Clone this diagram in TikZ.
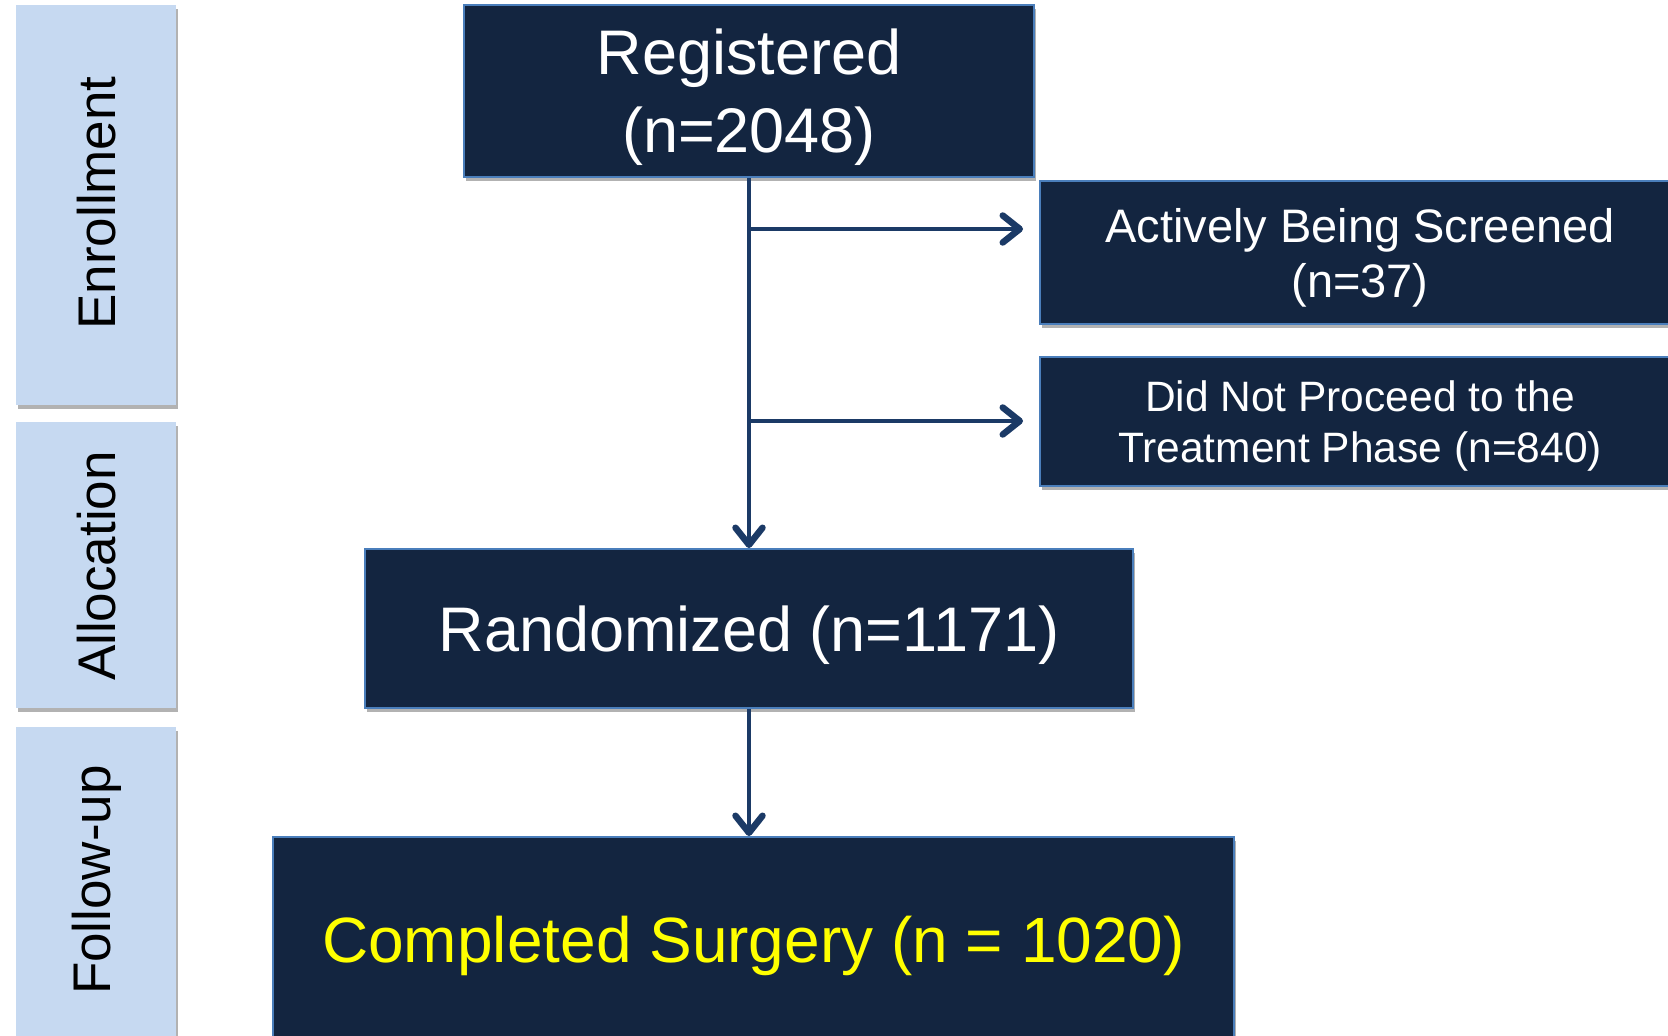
\documentclass[tikz,border=0pt]{standalone}
\usepackage{fontspec}
\setmainfont{Liberation Sans}
\usetikzlibrary{arrows.meta,shadows}
\definecolor{navy}{RGB}{19,37,64}
\definecolor{bord}{RGB}{74,126,187}
\definecolor{sidefill}{RGB}{198,217,241}
\definecolor{arr}{RGB}{27,58,102}
\definecolor{yel}{RGB}{255,255,0}
\begin{document}
\begin{tikzpicture}[x=1pt,y=-1pt,
  box/.style={rectangle, draw=bord, line width=2pt, fill=navy, inner sep=0pt,
    drop shadow={shadow xshift=2pt, shadow yshift=-4pt, opacity=0.3, fill=black}},
  boxtext/.style={text=white, align=center, inner sep=0pt},
  sidebox/.style={rectangle, fill=sidefill, inner sep=0pt,
    drop shadow={shadow xshift=2pt, shadow yshift=-4pt, opacity=0.3, fill=black}},
  sidelabel/.style={rotate=90, text=black, font=\fontsize{53}{60}\selectfont, inner sep=0pt},
  conn/.style={draw=arr, line width=4.5pt, -{Straight Barb[length=17pt,width=27pt,line width=6.5pt,round]}}]
\clip (0,0) rectangle (1668,1036);
\fill[white] (0,0) rectangle (1668,1036);

% side boxes
\node[sidebox, minimum width=160pt, minimum height=400pt] (enr) at (96,205) {};
\node[sidelabel] (enrl) at (97,203) {Enrollment};
\node[sidebox, minimum width=160pt, minimum height=286pt] (alloc) at (96,565) {};
\node[sidelabel] (allocl) at (97,566) {Allocation};
\node[sidebox, minimum width=160pt, minimum height=320pt] (fol) at (96,887) {};
\node[sidelabel] (foll) at (97,880) {Follow-up};

% main boxes
\node[box, minimum width=570pt, minimum height=172pt] (reg) at (749,91) {};
\node[boxtext, font=\fontsize{63}{78}\selectfont] (regt) at (749,97) {Registered\\(n=2048)};
\node[box, minimum width=640pt, minimum height=143pt] (act) at (1360,252.5) {};
\node[boxtext, font=\fontsize{47}{55}\selectfont] (actt) at (1360,258) {Actively Being Screened\\(n=37)};
\node[box, minimum width=640pt, minimum height=129pt] (dnp) at (1360,421.5) {};
\node[boxtext, font=\fontsize{42.5}{51}\selectfont] (dnpt) at (1360,426) {Did Not Proceed to the\\Treatment Phase (n=840)};
\node[box, minimum width=768pt, minimum height=159pt] (rand) at (749,628.5) {};
\node[boxtext, font=\fontsize{63}{78}\selectfont] (randt) at (749,635) {Randomized (n=1171)};
\node[box, minimum width=961pt, minimum height=206pt] (comp) at (753.5,940) {};
\node[boxtext, font=\fontsize{64}{78}\selectfont, text=yel] (compt) at (753.5,946) {Completed Surgery (n = 1020)};

% connectors
\coordinate (e1) at (1023,229);
\coordinate (e2) at (1023,421);
\draw[conn] (reg.south) -- (rand.north);
\draw[conn] (reg.south |- e1) -- (e1);
\draw[conn] (reg.south |- e2) -- (e2);
\draw[conn] (rand.south) -- (rand.south |- comp.north);
\end{tikzpicture}
\end{document}
